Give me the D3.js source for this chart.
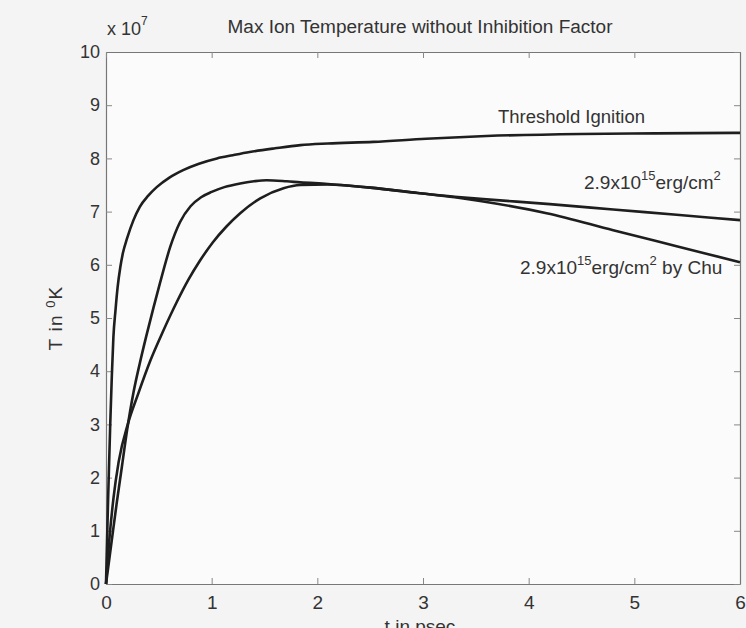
<!DOCTYPE html>
<html>
<head>
<meta charset="utf-8">
<script src="https://cdn.jsdelivr.net/npm/d3@7"></script>
<style>
  html, body { margin: 0; padding: 0; background: #f4f4f4; }
  svg { display: block; }
  text { font-family: "Liberation Sans", Arial, sans-serif; fill: #333; }
</style>
</head>
<body>
<div id="chart"></div>
<script>
// time in psec, temperature in units of 10^7 K
var tThreshold = [0, 0.01, 0.02, 0.03, 0.04, 0.055, 0.07, 0.09, 0.11, 0.135, 0.16, 0.2, 0.26, 0.32, 0.4, 0.48, 0.6, 0.73, 0.88, 1.05, 1.2, 1.36, 1.6, 1.84, 2.1, 2.53, 3.03, 3.6, 4.49, 5.2, 6];
var threshold = [0, 0.8, 1.6, 2.3, 3.0, 3.9, 4.64, 5.15, 5.58, 5.95, 6.22, 6.5, 6.84, 7.09, 7.3, 7.46, 7.64, 7.78, 7.9, 8.0, 8.06, 8.12, 8.19, 8.25, 8.28, 8.31, 8.37, 8.42, 8.46, 8.47, 8.48];

var tErg = [0, 0.05, 0.1, 0.15, 0.2, 0.26, 0.32, 0.38, 0.45, 0.51, 0.61, 0.7, 0.8, 0.9, 1.0, 1.12, 1.27, 1.4, 1.52, 1.71, 1.84, 2.1, 2.5, 2.95, 3.3, 3.54, 4.2, 4.8, 5.4, 6];
var erg = [0, 0.75, 1.5, 2.2, 2.9, 3.6, 4.15, 4.65, 5.2, 5.65, 6.35, 6.8, 7.1, 7.27, 7.37, 7.46, 7.53, 7.57, 7.59, 7.57, 7.55, 7.52, 7.45, 7.35, 7.28, 7.24, 7.14, 7.04, 6.94, 6.84];

var tChu = [0, 0.03, 0.07, 0.12, 0.21, 0.3, 0.42, 0.54, 0.67, 0.78, 0.89, 1.01, 1.14, 1.27, 1.46, 1.68, 1.84, 2.1, 2.5, 2.95, 3.3, 3.54, 4.17, 4.8, 5.4, 6];
var chu = [0, 0.8, 1.6, 2.3, 3.03, 3.55, 4.2, 4.75, 5.3, 5.72, 6.08, 6.42, 6.72, 6.97, 7.25, 7.44, 7.5, 7.51, 7.45, 7.35, 7.27, 7.2, 6.97, 6.65, 6.35, 6.05];

var xTicks = [0, 1, 2, 3, 4, 5, 6];
var yTicks = [0, 1, 2, 3, 4, 5, 6, 7, 8, 9, 10];

var chartWidth = 746;
var chartHeight = 628;
var plotLeft = 106, plotRight = 740, plotTop = 52, plotBottom = 584;

var svg = d3.select('#chart')
    .append('svg')
    .attr('width', chartWidth)
    .attr('height', chartHeight);

// Scales
var scaleX = d3.scaleLinear().domain([0, 6]).range([plotLeft, plotRight]);
var scaleY = d3.scaleLinear().domain([0, 10]).range([plotBottom, plotTop]);

// Plot area
svg.append('rect')
    .attr('x', plotLeft)
    .attr('y', plotTop)
    .attr('width', plotRight - plotLeft)
    .attr('height', plotBottom - plotTop)
    .attr('fill', '#fbfbfb');

// Axes (MATLAB style, ticks pointing inward on all sides)
function styleAxis(g) {
  g.select('.domain').attr('stroke', '#777').attr('stroke-width', 1.2);
  g.selectAll('.tick line').attr('stroke', '#888');
}

svg.append('g')
    .attr('transform', 'translate(0,' + plotBottom + ')')
    .call(d3.axisBottom(scaleX).tickValues(xTicks).tickFormat(d3.format('d'))
        .tickSize(-6).tickPadding(12).tickSizeOuter(0))
    .call(styleAxis)
    .call(function(g) {
      g.selectAll('text').attr('font-size', 19).attr('fill', '#333')
          .attr('font-family', '"Liberation Sans", Arial, sans-serif');
    });

svg.append('g')
    .attr('transform', 'translate(' + plotLeft + ',0)')
    .call(d3.axisLeft(scaleY).tickValues(yTicks).tickFormat(d3.format('d'))
        .tickSize(-6).tickPadding(6).tickSizeOuter(0))
    .call(styleAxis)
    .call(function(g) {
      g.selectAll('text').attr('font-size', 18).attr('fill', '#333')
          .attr('font-family', '"Liberation Sans", Arial, sans-serif');
    });

svg.append('g')
    .attr('transform', 'translate(0,' + plotTop + ')')
    .call(d3.axisTop(scaleX).tickValues(xTicks).tickSize(-6).tickFormat('').tickSizeOuter(0))
    .call(styleAxis);

svg.append('g')
    .attr('transform', 'translate(' + plotRight + ',0)')
    .call(d3.axisRight(scaleY).tickValues(yTicks).tickSize(-6).tickFormat('').tickSizeOuter(0))
    .call(styleAxis);

// Curves
var line = d3.line()
    .x(function(d) { return scaleX(d[0]); })
    .y(function(d) { return scaleY(d[1]); })
    .curve(d3.curveMonotoneX);

var series = [
  d3.zip(tThreshold, threshold),
  d3.zip(tErg, erg),
  d3.zip(tChu, chu)
];

svg.selectAll('path.curve')
    .data(series)
    .enter()
    .append('path')
    .attr('class', 'curve')
    .attr('d', line)
    .attr('fill', 'none')
    .attr('stroke', '#1e1e1e')
    .attr('stroke-width', 2.6)
    .attr('stroke-linejoin', 'round');

// Title and exponent
svg.append('text')
    .attr('x', 420)
    .attr('y', 33)
    .attr('text-anchor', 'middle')
    .attr('font-size', 18)
    .attr('textLength', 385)
    .attr('lengthAdjust', 'spacingAndGlyphs')
    .text('Max Ion Temperature without Inhibition Factor');

var expo = svg.append('text')
    .attr('x', 107)
    .attr('y', 35)
    .attr('font-size', 18);
expo.append('tspan').text('x 10');
expo.append('tspan').attr('dy', -10).attr('font-size', 12).text('7');

// Axis labels
svg.append('text')
    .attr('x', 420)
    .attr('y', 633)
    .attr('text-anchor', 'middle')
    .attr('font-size', 19)
    .text('t in psec');

var ylab = svg.append('text')
    .attr('transform', 'translate(62,318) rotate(-90)')
    .attr('text-anchor', 'middle')
    .attr('font-size', 19)
    .attr('letter-spacing', 1.2);
ylab.append('tspan').text('T in ');
ylab.append('tspan').attr('dy', -7).attr('font-size', 13).text('0');
ylab.append('tspan').attr('dy', 7).text('K');

// Curve labels
svg.append('text')
    .attr('x', 498)
    .attr('y', 123)
    .attr('font-size', 18)
    .attr('textLength', 147)
    .attr('lengthAdjust', 'spacingAndGlyphs')
    .text('Threshold Ignition');

function ergLabel(x, y, suffix) {
  var t = svg.append('text')
      .attr('x', x)
      .attr('y', y)
      .attr('font-size', 19);
  t.append('tspan').text('2.9x10');
  t.append('tspan').attr('dy', -9).attr('font-size', 13).text('15');
  t.append('tspan').attr('dy', 9).text('erg/cm');
  t.append('tspan').attr('dy', -9).attr('font-size', 13).text('2');
  if (suffix) {
    t.append('tspan').attr('dy', 9).text(suffix);
  }
}

ergLabel(584, 189, '');
ergLabel(520, 274, ' by Chu');
</script>
</body>
</html>
